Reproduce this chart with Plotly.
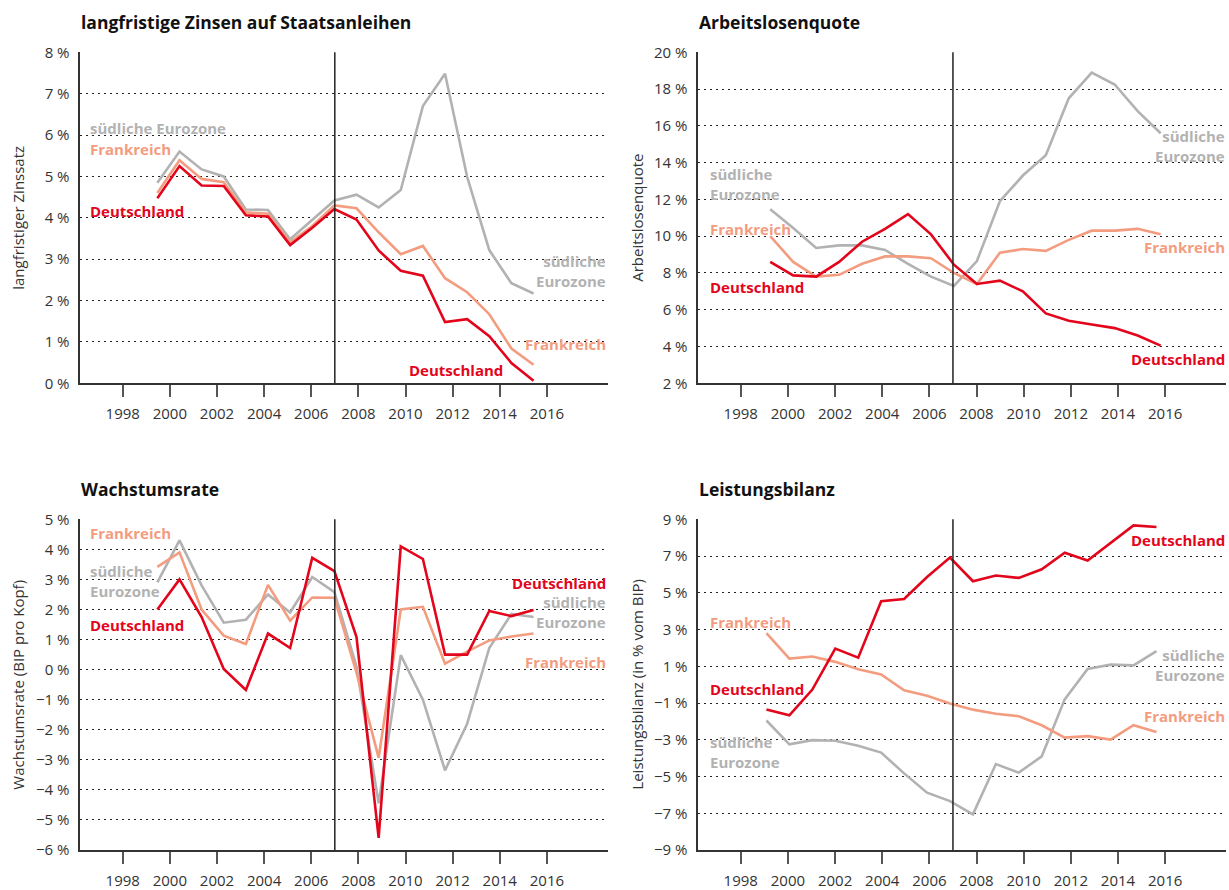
import plotly.graph_objects as go

# data years (one point per year) and the printed year ticks
years = list(range(1999, 2017))
tick_years = list(range(1998, 2017, 2))

# langfristige Zinsen auf Staatsanleihen (%)
zins_de = [4.47, 5.25, 4.78, 4.77, 4.06, 4.03, 3.34, 3.76, 4.21, 3.96, 3.21, 2.72, 2.60, 1.48, 1.55, 1.14, 0.49, 0.06]
zins_fr = [4.60, 5.39, 4.94, 4.86, 4.13, 4.10, 3.41, 3.80, 4.30, 4.23, 3.65, 3.12, 3.32, 2.54, 2.20, 1.67, 0.84, 0.45]
zins_sued = [4.85, 5.60, 5.17, 5.00, 4.20, 4.19, 3.48, 3.95, 4.42, 4.56, 4.25, 4.67, 6.70, 7.48, 4.99, 3.22, 2.42, 2.17]

# Arbeitslosenquote (%)
alq_de = [8.6, 7.87, 7.8, 8.6, 9.7, 10.4, 11.2, 10.1, 8.45, 7.4, 7.58, 7.0, 5.8, 5.4, 5.2, 5.0, 4.6, 4.05]
alq_fr = [10.0, 8.6, 7.8, 7.9, 8.5, 8.9, 8.9, 8.8, 8.0, 7.4, 9.1, 9.3, 9.2, 9.8, 10.3, 10.3, 10.4, 10.1]
alq_sued = [11.46, 10.45, 9.36, 9.5, 9.5, 9.25, 8.5, 7.8, 7.3, 8.65, 11.9, 13.3, 14.4, 17.5, 18.9, 18.25, 16.8, 15.6]

# Wachstumsrate, BIP pro Kopf (%)
wachs_de = [2.0, 3.0, 1.75, 0.02, -0.68, 1.2, 0.72, 3.72, 3.28, 1.08, -5.6, 4.1, 3.68, 0.5, 0.5, 1.95, 1.78, 1.98]
wachs_fr = [3.42, 3.9, 2.0, 1.13, 0.85, 2.82, 1.63, 2.4, 2.39, -0.1, -2.93, 2.0, 2.09, 0.2, 0.6, 0.97, 1.1, 1.2]
wachs_sued = [2.9, 4.3, 2.8, 1.56, 1.66, 2.5, 1.9, 3.08, 2.58, 0.1, -4.45, 0.48, -1.0, -3.35, -1.8, 0.72, 1.85, 1.75]

# Leistungsbilanz (% vom BIP)
lb_de = [-1.35, -1.67, -0.27, 1.96, 1.47, 4.54, 4.66, 5.86, 6.92, 5.63, 5.94, 5.81, 6.28, 7.18, 6.76, 7.7, 8.67, 8.58]
lb_fr = [2.8, 1.42, 1.53, 1.24, 0.84, 0.55, -0.31, -0.6, -1.03, -1.36, -1.58, -1.72, -2.21, -2.88, -2.8, -2.99, -2.21, -2.58]
lb_sued = [-1.95, -3.25, -3.02, -3.05, -3.32, -3.7, -4.83, -5.88, -6.34, -7.06, -4.32, -4.79, -3.9, -0.8, 0.85, 1.09, 1.05, 1.82]

W, H = 1229, 890
RED = "#e3051b"
SALMON = "#f39c80"
GRAY = "#b2b2b2"
INK = "#333333"
FONT = "Open Sans"

def px(x):
    return x / W

def py(y):
    return 1 - y / H

# t0/step: where the first data point sits on the printed year scale, and the spacing of points
panels = [
    dict(title="langfristige Zinsen auf Staatsanleihen", ytitle="langfristiger Zinssatz",
         data=(zins_sued, zins_fr, zins_de), yrange=(0, 8), dtick=1,
         left=80.3, right=607.7, top=52.3, bottom=383.3, t0=1999.47, step=0.939, ytx=18),
    dict(title="Arbeitslosenquote", ytitle="Arbeitslosenquote",
         data=(alq_sued, alq_fr, alq_de), yrange=(2, 20), dtick=2,
         left=698.3, right=1226, top=52.3, bottom=383.3, t0=1999.25, step=0.974, ytx=637),
    dict(title="Wachstumsrate", ytitle="Wachstumsrate (BIP pro Kopf)",
         data=(wachs_sued, wachs_fr, wachs_de), yrange=(-6, 5), dtick=1,
         left=80.3, right=607.7, top=519.3, bottom=850, t0=1999.47, step=0.939, ytx=18),
    dict(title="Leistungsbilanz", ytitle="Leistungsbilanz (in % vom BIP)",
         data=(lb_sued, lb_fr, lb_de), yrange=(-9, 9), dtick=2,
         left=698.3, right=1226, top=519.3, bottom=850, t0=1999.09, step=0.973, ytx=637),
]

axis_years = (1996.2, 2018.58)

fig = go.Figure()
layout = dict(width=W, height=H, margin=dict(l=0, r=0, t=0, b=0, autoexpand=False),
              paper_bgcolor="white", plot_bgcolor="white", showlegend=False,
              font=dict(family=FONT, color=INK), shapes=[], annotations=[])

for i, p in enumerate(panels, start=1):
    sfx = "" if i == 1 else str(i)
    to_data = lambda t, p=p: years[0] + (t - p["t0"]) / p["step"]
    for vals, col in zip(p["data"], (GRAY, SALMON, RED)):
        fig.add_trace(go.Scatter(x=years, y=vals, mode="lines", xaxis="x" + sfx, yaxis="y" + sfx,
                                 line=dict(color=col, width=2.6), hoverinfo="skip"))
    layout["xaxis" + sfx] = dict(
        domain=[px(p["left"]), px(p["right"])], anchor="y" + sfx, automargin=False,
        range=[to_data(axis_years[0]), to_data(axis_years[1])],
        tickmode="array", tickvals=[to_data(t) for t in tick_years], ticktext=[str(t) for t in tick_years],
        ticks="outside", ticklen=12, tickwidth=1.5, tickcolor="#555555", ticklabelstandoff=4,
        showgrid=False, zeroline=False, showline=True, linecolor=INK, linewidth=1.6,
        tickfont=dict(family=FONT, size=15, color=INK), fixedrange=True)
    layout["yaxis" + sfx] = dict(
        domain=[py(p["bottom"]), py(p["top"])], anchor="x" + sfx, automargin=False,
        range=list(p["yrange"]), dtick=p["dtick"], tick0=p["yrange"][0], ticksuffix=" %",
        ticks="", ticklabelstandoff=6,
        showgrid=True, gridcolor="#222222", gridwidth=1.4, griddash="2px,4px",
        zeroline=False, showline=True, linecolor=INK, linewidth=1.6,
        tickfont=dict(family=FONT, size=15, color=INK), fixedrange=True)
    layout["shapes"].append(dict(type="line", xref="x" + sfx, yref="y" + sfx + " domain",
                                 x0=to_data(2007), x1=to_data(2007), y0=0, y1=1,
                                 line=dict(color="#222222", width=1.5)))
    layout["annotations"].append(dict(text=p["title"], xref="paper", yref="paper",
                                      x=px(p["left"] - 1), y=py(p["top"] - 30), xanchor="left", yanchor="middle",
                                      showarrow=False, font=dict(family=FONT, size=17.5, color="#111111", weight="bold")))
    layout["annotations"].append(dict(text=p["ytitle"], xref="paper", yref="paper", textangle=-90,
                                      x=px(p["ytx"]), y=py((p["top"] + p["bottom"]) / 2),
                                      xanchor="center", yanchor="middle", showarrow=False,
                                      font=dict(family=FONT, size=15, color=INK)))

# series labels: text, colour, x px, y px (centre of the block), anchor side
labels = [
    ("südliche Eurozone", GRAY, 88, 128, "left"),
    ("Frankreich", SALMON, 88, 148.5, "left"),
    ("Deutschland", RED, 88, 210.5, "left"),
    ("südliche<br>Eurozone", GRAY, 608, 271, "right"),
    ("Frankreich", SALMON, 608, 343.5, "right"),
    ("Deutschland", RED, 505, 370, "right"),

    ("südliche<br>Eurozone", GRAY, 708, 183.5, "left"),
    ("Frankreich", SALMON, 708, 229, "left"),
    ("Deutschland", RED, 708, 286.5, "left"),
    ("südliche<br>Eurozone", GRAY, 1227, 146.5, "right"),
    ("Frankreich", SALMON, 1227, 247.5, "right"),
    ("Deutschland", RED, 1227, 358.5, "right"),

    ("Frankreich", SALMON, 88, 532.5, "left"),
    ("südliche<br>Eurozone", GRAY, 88, 580.5, "left"),
    ("Deutschland", RED, 88, 624.5, "left"),
    ("Deutschland", RED, 608, 582.5, "right"),
    ("südliche<br>Eurozone", GRAY, 608, 611.5, "right"),
    ("Frankreich", SALMON, 608, 661.5, "right"),

    ("Deutschland", RED, 1227, 539.5, "right"),
    ("Frankreich", SALMON, 708, 621.5, "left"),
    ("Deutschland", RED, 708, 688.5, "left"),
    ("südliche<br>Eurozone", GRAY, 1227, 664.5, "right"),
    ("Frankreich", SALMON, 1227, 715.5, "right"),
    ("südliche<br>Eurozone", GRAY, 708, 751.5, "left"),
]
for text, col, x, y, side in labels:
    layout["annotations"].append(dict(text=text, xref="paper", yref="paper", x=px(x), y=py(y),
                                      xanchor=side, yanchor="middle", align=side, showarrow=False,
                                      font=dict(family=FONT, size=15, color=col, weight="bold")))

fig.update_layout(**layout)
# the page must not add its own margin, otherwise the fixed-size figure overflows the window
fig.write_html("out.html", config=dict(displayModeBar=False),
               post_script="document.body.style.margin='0px';document.body.style.overflow='hidden';")
